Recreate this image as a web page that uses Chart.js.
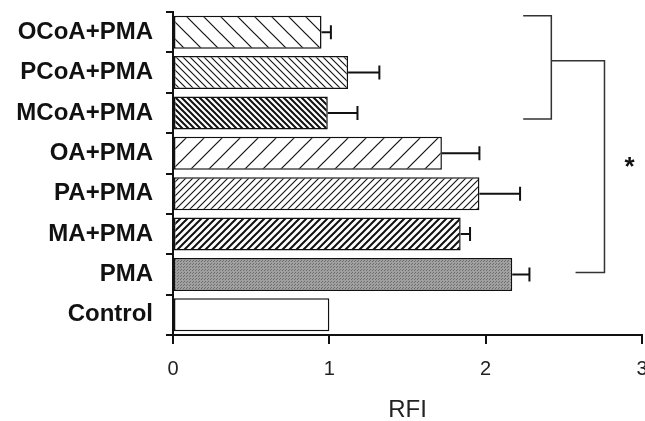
<!DOCTYPE html>
<html>
<head>
<meta charset="utf-8">
<script src="https://cdn.jsdelivr.net/npm/chart.js@4"></script>
<style>
  html, body { margin: 0; padding: 0; background: #fff; }
  #wrap { width: 645px; height: 421px; }
</style>
</head>
<body>
<div id="wrap"><canvas id="myChart"></canvas></div>
<script>
// data
const categories = ['OCoA+PMA', 'PCoA+PMA', 'MCoA+PMA', 'OA+PMA', 'PA+PMA', 'MA+PMA', 'PMA', 'Control'];
const rfiValues = [0.95, 1.12, 0.99, 1.72, 1.96, 1.84, 2.17, 1.0];
const rfiErrors = [0.06, 0.20, 0.19, 0.24, 0.26, 0.06, 0.11, 0];
const xTicks = [0, 1, 2, 3];

// hatch fills, one per bar
function hatch(spacing, dir, width) {
  const c = document.createElement('canvas');
  c.width = spacing; c.height = spacing;
  const g = c.getContext('2d');
  g.fillStyle = '#fff';
  g.fillRect(0, 0, spacing, spacing);
  g.strokeStyle = '#111';
  g.lineWidth = width;
  g.beginPath();
  if (dir === '/') {
    g.moveTo(-1, spacing + 1); g.lineTo(spacing + 1, -1);
    g.moveTo(-1, 1); g.lineTo(1, -1);
    g.moveTo(spacing - 1, spacing + 1); g.lineTo(spacing + 1, spacing - 1);
  } else {
    g.moveTo(-1, -1); g.lineTo(spacing + 1, spacing + 1);
    g.moveTo(spacing - 1, -1); g.lineTo(spacing + 1, 1);
    g.moveTo(-1, spacing - 1); g.lineTo(1, spacing + 1);
  }
  g.stroke();
  return g.createPattern(c, 'repeat');
}

function dots() {
  const c = document.createElement('canvas');
  c.width = 3; c.height = 3;
  const g = c.getContext('2d');
  g.fillStyle = '#a0a0a0';
  g.fillRect(0, 0, 3, 3);
  g.fillStyle = '#6e6e6e';
  g.fillRect(0, 0, 1, 1);
  g.fillRect(1, 2, 1, 1);
  return g.createPattern(c, 'repeat');
}

const fills = [
  hatch(17, '\\', 1.2),
  hatch(7, '\\', 1.1),
  hatch(6, '\\', 2),
  hatch(18, '/', 1.2),
  hatch(7, '/', 1.1),
  hatch(7, '/', 2),
  dots(),
  '#ffffff'
];

// error bars
const errorBars = {
  id: 'errorBars',
  afterDatasetsDraw(chart) {
    const { ctx, scales: { x } } = chart;
    const meta = chart.getDatasetMeta(0);
    ctx.save();
    ctx.strokeStyle = '#111';
    ctx.lineWidth = 2;
    meta.data.forEach((bar, i) => {
      const e = rfiErrors[i];
      if (!e) return;
      const x0 = x.getPixelForValue(rfiValues[i]);
      const x1 = x.getPixelForValue(rfiValues[i] + e);
      ctx.beginPath();
      ctx.moveTo(x0, bar.y); ctx.lineTo(x1, bar.y);
      ctx.moveTo(x1, bar.y - 7); ctx.lineTo(x1, bar.y + 7);
      ctx.stroke();
    });
    ctx.restore();
  }
};

// significance brackets + asterisk
const brackets = {
  id: 'brackets',
  afterDraw(chart) {
    const { ctx, scales: { x, y } } = chart;
    const px = v => x.getPixelForValue(v);
    const py = v => y.getPixelForValue(v);
    ctx.save();
    ctx.strokeStyle = '#333';
    ctx.lineWidth = 1.5;
    ctx.beginPath();
    // inner bracket (CoA groups)
    ctx.moveTo(px(2.24), py(-0.41)); ctx.lineTo(px(2.42), py(-0.41));
    ctx.lineTo(px(2.42), py(2.15)); ctx.lineTo(px(2.24), py(2.15));
    // outer bracket
    ctx.moveTo(px(2.42), py(0.71)); ctx.lineTo(px(2.76), py(0.71));
    ctx.lineTo(px(2.76), py(5.95)); ctx.lineTo(px(2.575), py(5.95));
    ctx.stroke();
    ctx.fillStyle = '#111';
    ctx.font = 'bold 26px "Liberation Sans", Arial, sans-serif';
    ctx.textAlign = 'center';
    ctx.textBaseline = 'middle';
    ctx.fillText('*', px(2.92), py(3.24) + 5);
    ctx.restore();
  }
};

const data = {
  labels: categories,
  datasets: [{
    data: rfiValues,
    backgroundColor: fills,
    borderColor: '#111',
    borderWidth: 1.5,
    borderSkipped: false,
    barPercentage: 0.82,
    categoryPercentage: 1.0
  }]
};

const config = {
  type: 'bar',
  data,
  options: {
    indexAxis: 'y',
    responsive: true,
    maintainAspectRatio: false,
    animation: false,
    layout: { padding: { top: 12, right: 3, left: 0, bottom: 0 } },
    plugins: { legend: { display: false }, tooltip: { enabled: false } },
    scales: {
      x: {
        min: 0,
        max: 3,
        afterBuildTicks: s => { s.ticks = xTicks.map(v => ({ value: v })); },
        afterFit: s => { s.height = 86; s.paddingLeft = 0; s.paddingRight = 0; },
        border: { color: '#111', width: 2 },
        grid: { drawOnChartArea: false, color: '#111', lineWidth: 2, tickLength: 9 },
        ticks: {
          color: '#222',
          padding: 13,
          maxRotation: 0,
          font: { family: '"Liberation Sans", Arial, sans-serif', size: 20 }
        },
        title: {
          display: true,
          text: 'RFI',
          color: '#222',
          padding: { top: 0, bottom: 0 },
          font: { family: '"Liberation Sans", Arial, sans-serif', size: 24, lineHeight: 0.9 }
        }
      },
      y: {
        afterFit: s => { s.width = 173; s.paddingTop = 0; s.paddingBottom = 0; },
        border: { color: '#111', width: 2 },
        grid: { drawOnChartArea: false, color: '#111', lineWidth: 2, tickLength: 7, offset: true },
        ticks: {
          color: '#111',
          padding: 13,
          font: { family: '"Liberation Sans", Arial, sans-serif', size: 24, weight: 'bold' }
        }
      }
    }
  },
  plugins: [errorBars, brackets]
};

const myChart = new Chart(document.getElementById('myChart'), config);
</script>
</body>
</html>
